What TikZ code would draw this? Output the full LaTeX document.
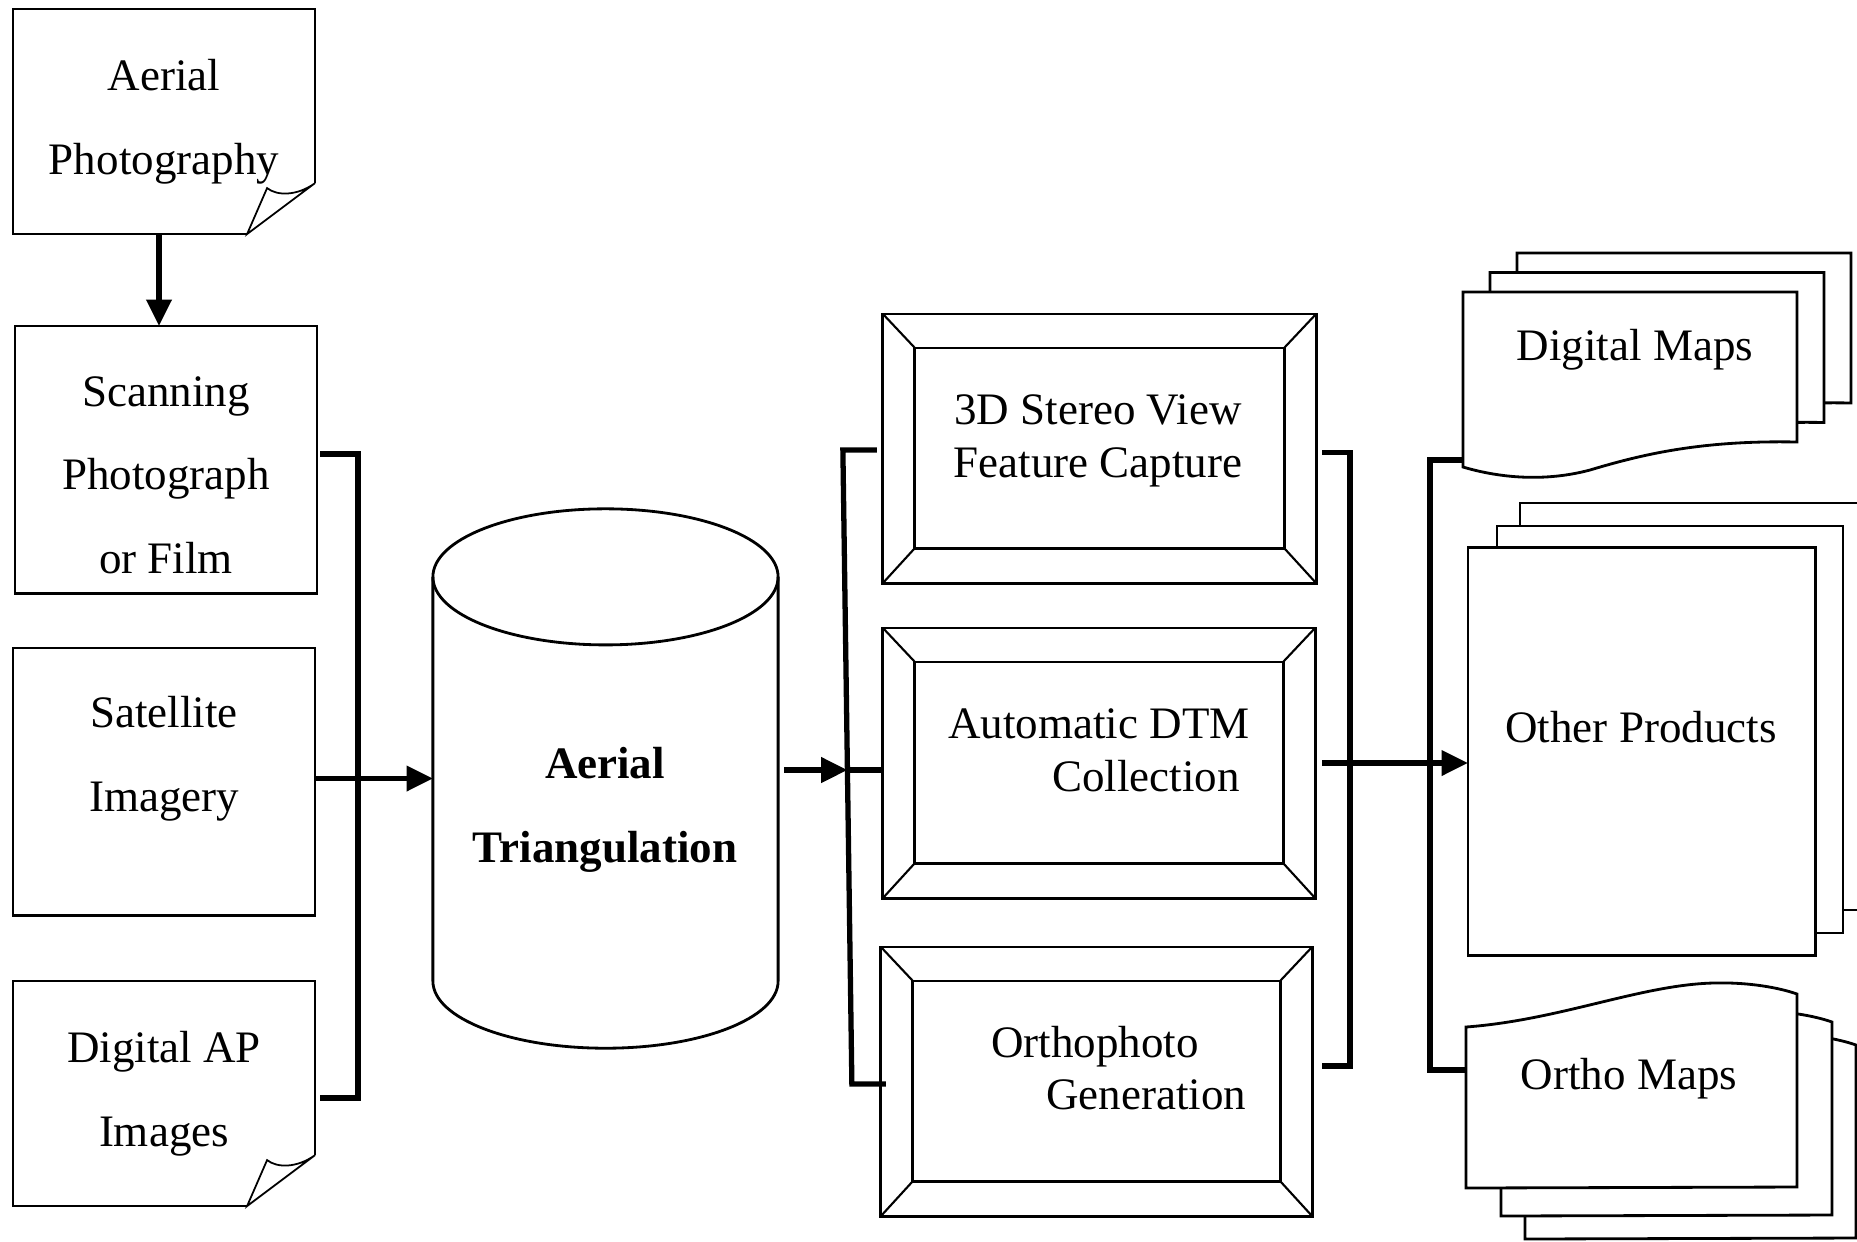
\documentclass[tikz,border=0pt]{standalone}
\usepackage{fontspec}
\setmainfont{Liberation Serif}
\usetikzlibrary{calc,arrows.meta}
\newcommand\DrawFold[1]{%
  \draw[bx] ($(#1.south east)+(0,-51)$) -- (#1.north east) -- (#1.north west) -- (#1.south west) -- ($(#1.south east)+(-68,0)$);
  \draw[foldline] ($(#1.south east)+(0,-51)$) -- ($(#1.south east)+(-68,0)$) -- ($(#1.south east)+(-48,-46)$) .. controls ($(#1.south east)+(-38,-38)$) and ($(#1.south east)+(-18,-38)$) .. ($(#1.south east)+(0,-51)$);
}
\newcommand\DrawBevel[1]{%
  \draw[bx] (#1.north west) rectangle (#1.south east);
  \draw[bx] ($(#1.north west)+(32,34)$) rectangle ($(#1.south east)+(-32,-35)$);
  \draw[bvl] (#1.north west) -- ($(#1.north west)+(32,34)$);
  \draw[bvl] (#1.north east) -- ($(#1.north east)+(-32,34)$);
  \draw[bvl] (#1.south west) -- ($(#1.south west)+(32,-35)$);
  \draw[bvl] (#1.south east) -- ($(#1.south east)+(-32,-35)$);
}
\begin{document}
\begin{tikzpicture}[x=0.01cm,y=-0.01cm,
  shp/.style={draw=none, rectangle, inner sep=0pt, outer sep=0pt},
  rbox/.style={draw, line width=0.8pt, rectangle, inner sep=0pt, outer sep=0pt},
  bx/.style={line width=0.8pt},
  bvl/.style={line width=0.6pt},
  foldline/.style={line width=0.5pt},
  conn/.style={line width=1.5pt},
  arr/.style={line width=1.5pt, -{Triangle[length=7.5pt,width=7pt]}},
  txt/.style={font=\fontsize{12.8pt}{23.8pt}\selectfont, align=center, inner sep=0pt},
  txtb/.style={font=\fontsize{12.8pt}{15pt}\selectfont, align=center, inner sep=0pt}]
\useasboundingbox (0,0) rectangle (1857,1241);
\fill[white] (0,0) rectangle (1857,1241);
\clip (0,0) rectangle (1857,1241);

% ---- left column
\node[shp, minimum width=3.02cm, minimum height=2.25cm] (aerial) at (164,121.5) {};
\DrawFold{aerial}
\node[txt] (aerialT) at (164,122) {Aerial\\Photography};

\node[rbox, minimum width=3.02cm, minimum height=2.67cm] (scan) at (166,459.5) {};
\node[txt] (scanT) at (166,475) {Scanning\\Photograph\\or Film};

\node[rbox, minimum width=3.02cm, minimum height=2.67cm] (sat) at (164,781.5) {};
\node[txt] (satT) at (164,759) {Satellite\\Imagery};

\node[shp, minimum width=3.02cm, minimum height=2.25cm] (dap) at (164,1093.5) {};
\DrawFold{dap}
\node[txt] (dapT) at (164,1094) {Digital AP\\Images};

% ---- cylinder
\node[shp, minimum width=3.45cm, minimum height=5.39cm] (cyl) at (605.5,778.5) {};
\draw[bx] ($(cyl.north)+(0,68)$) ellipse [x radius=1.725cm, y radius=0.68cm];
\draw[bx] ($(cyl.north west)+(0,68)$) -- ($(cyl.south west)+(0,-67)$)
  arc[start angle=180, end angle=360, x radius=1.725cm, y radius=0.67cm]
  -- ($(cyl.north east)+(0,68)$);
\node[txt, font=\fontsize{12.8pt}{23.8pt}\selectfont\bfseries] (cylT) at (605,810) {Aerial\\Triangulation};

% ---- bevel boxes
\node[shp, minimum width=4.33cm, minimum height=2.69cm] (box1) at (1099.5,448.5) {};
\DrawBevel{box1}
\node[txtb] (box1T) at (1098,441) {3D Stereo View\\Feature Capture};

\node[shp, minimum width=4.32cm, minimum height=2.70cm] (box2) at (1099,763) {};
\DrawBevel{box2}
\node[txtb] (box2T) at (1099,750) {Automatic DTM\\\hspace*{0.94cm}Collection};

\node[shp, minimum width=4.31cm, minimum height=2.69cm] (box3) at (1096.5,1081.5) {};
\DrawBevel{box3}
\node[txtb] (box3T) at (1095,1068) {Orthophoto\\\hspace*{1.02cm}Generation};

% ---- Digital Maps stack
\foreach \dx/\dy in {54/-39, 27/-19.5} {
  \draw[bx, fill=white, shift={(\dx,\dy)}] (1463,292) -- (1797,292) -- (1797,442)
    .. controls (1700,440) and (1640,455) .. (1590,470)
    .. controls (1545,482) and (1500,478) .. (1463,467) -- cycle;
}
\draw[bx, fill=white] (1463,292) -- (1797,292) -- (1797,442)
    .. controls (1700,440) and (1640,455) .. (1590,470)
    .. controls (1545,482) and (1500,478) .. (1463,467) -- cycle;
\node[shp, minimum width=3.34cm, minimum height=1.75cm] (dmaps) at (1630,379.5) {};
\node[txt] (dmapsT) at (1635,350) {Digital Maps};

% ---- Other Products stack
\draw[bx, fill=white] (1520,503) rectangle (1870,910);
\draw[bx, fill=white] (1497,526) rectangle (1843,933);
\node[rbox, fill=white, minimum width=3.47cm, minimum height=4.07cm] (oprod) at (1641.5,751.5) {};
\node[txt] (oprodT) at (1641,727) {Other Products};

% ---- Ortho Maps stack
\foreach \dx/\dy in {59/51, 35/28} {
  \draw[bx, fill=white, shift={(\dx,\dy)}] (1466,1027)
    .. controls (1560,1020) and (1640,985) .. (1713,983)
    .. controls (1750,982) and (1780,988) .. (1797,994)
    -- (1797,1187) -- (1466,1188) -- cycle;
}
\draw[bx, fill=white] (1466,1027)
    .. controls (1560,1020) and (1640,985) .. (1713,983)
    .. controls (1750,982) and (1780,988) .. (1797,994)
    -- (1797,1187) -- (1466,1188) -- cycle;
\node[shp, minimum width=3.31cm, minimum height=1.94cm] (ortho) at (1631.5,1091) {};
\node[txt] (orthoT) at (1629,1079) {Ortho Maps};

% ---- connectors
\draw[arr] ($(aerial.south)+(-5,0)$) -- ($(aerial.south |- scan.north)+(-5,0)$);

\coordinate (j1) at (358,778.5);
\draw[conn] ($(scan.east)+(3,-5.5)$) -| (j1) |- ($(dap.east)+(5,4.5)$);
\draw[arr] (sat.east |- cyl.west) -- (cyl.west);

\coordinate (j2) at (847.5,770);
\draw[arr] ($(cyl.east)+(6,-8.5)$) -- (j2);
\draw[conn] (j2) -- (j2 -| box2.west);
\draw[conn] ($(box1.west)+(-6,1.5)$) -- ++(-34,0) -- ($(box3.west)+(-29,2.5)$) -- ($(box3.west)+(5,2.5)$);

\coordinate (j3) at (1350,763);
\draw[conn] ($(box1.east)+(6,4)$) -| (j3) |- ($(box3.east)+(10,-15.5)$);
\draw[arr] ($(box2.east)+(7,0)$) -- (box2.east -| oprod.west);

\coordinate (j4) at (1430,763);
\draw[conn] ($(dmaps.south west)+(0,-7)$) -| (j4) |- ($(ortho.west)+(0,-21)$);
\end{tikzpicture}
\end{document}
